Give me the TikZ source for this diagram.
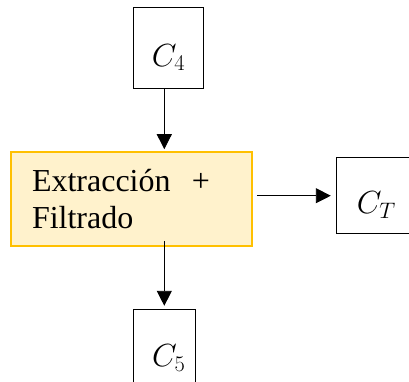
\RequirePackage{fix-cm}
\documentclass[tikz,border=0pt]{standalone}
\usepackage{fontspec}
\setmainfont{Liberation Serif}
\usetikzlibrary{arrows.meta,positioning}
\definecolor{procfill}{HTML}{FFF2CC}
\definecolor{procline}{HTML}{FFC000}

\begin{document}
\begin{tikzpicture}[x=1pt,y=-1pt,
      font=\fontsize{32}{36.7}\selectfont,
      cbox/.style={draw=black,line width=0.9pt,fill=white,inner sep=0pt,text depth=0pt},
      proc/.style={draw=procline,line width=1.6pt,fill=procfill,minimum width=241pt,minimum height=94pt,
                   text width=199pt,inner xsep=21pt,align=left},
      arr/.style={-{Triangle[length=15pt,width=15pt]},line width=0.9pt,black}]

    \clip (0,0) rectangle (409,381);

    \node[proc] (proc) at (131.5,199) {Extracción\ \ +\\Filtrado};
    \node[cbox,minimum width=69.6pt,minimum height=81.3pt,text height=36pt,above=62pt of proc,xshift=37pt] (c4) {$C_4$};
    \node[cbox,minimum width=80pt,minimum height=76pt,text height=35pt,right=83pt of proc,yshift=3.3pt] (ct) {$C_T$};
    \node[cbox,minimum width=61.3pt,minimum height=92pt,text height=22pt,below=62pt of proc,xshift=32.8pt] (c5) {\hspace{9pt}$C_5$};

    \draw[arr,shorten >=2pt] (c4.south -| c5) -- (proc.north -| c5);
    \draw[arr,shorten <=4pt,shorten >=5pt] (proc.east |- ct) -- (ct.west);
    \draw[arr,shorten <=-6pt,shorten >=3pt] (proc.south -| c5) -- (c5.north);
  \end{tikzpicture}
\end{document}
